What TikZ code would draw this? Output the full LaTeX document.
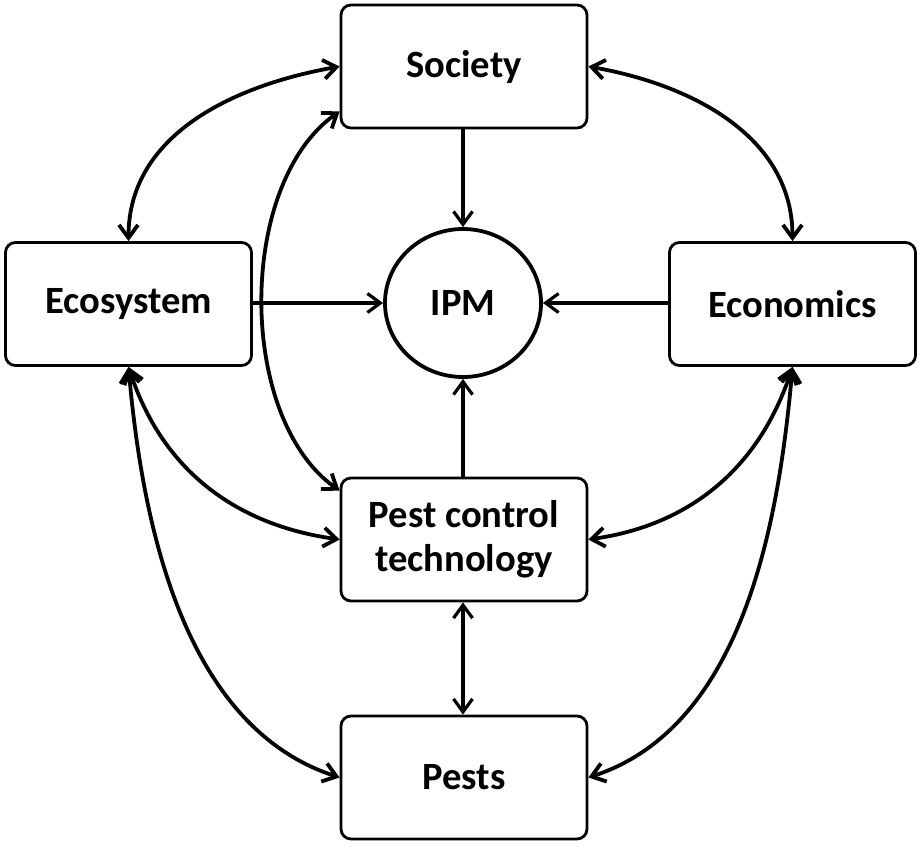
\documentclass[tikz,border=0pt]{standalone}
\usepackage{fontspec}
\setmainfont{Carlito}
\usetikzlibrary{arrows.meta,shapes.geometric}
\begin{document}
\begin{tikzpicture}[x=0.5pt,y=0.5pt,
  lbl/.style={font=\bfseries\fontsize{19.3}{22}\selectfont},
  box/.style={lbl, draw, line width=1.4pt, rounded corners=5pt, minimum width=123pt, minimum height=61.5pt, inner sep=0pt, align=center},
  ipmnode/.style={lbl, draw, ellipse, line width=1.9pt, minimum width=78pt, minimum height=74pt, inner sep=0pt},
  straightarr/.style={line width=1.6pt, -{Straight Barb[length=6.5pt,width=9.5pt]}},
  bothstraight/.style={line width=1.6pt, {Straight Barb[length=6.5pt,width=9.5pt]}-{Straight Barb[length=6.5pt,width=9.5pt]}},
  curvearr/.style={line width=1.9pt, {Straight Barb[length=6.5pt,width=9.5pt]}-{Straight Barb[length=6.5pt,width=9.5pt]}}
]
\useasboundingbox (0,0) rectangle (922,-847);

\node[box] (soc) at (464,-66.5) {Society};
\node[box] (eco) at (128.5,-304) {Ecosystem};
\node[box] (econ) at (792.5,-304) {Economics};
\node[box] (pct) at (464,-539.5) {Pest control\\technology};
\node[box] (pests) at (464,-777.5) {Pests};
\node[ipmnode] (ipm) at (463,-303) {IPM};

% straight arrows into IPM
\draw[straightarr] (soc.south -| ipm.north) -- (ipm.north);
\draw[straightarr] (eco.east |- ipm.west) -- (ipm.west);
\draw[straightarr] (econ.west |- ipm.east) -- (ipm.east);
\draw[straightarr] (pct.north -| ipm.south) -- (ipm.south);
\draw[bothstraight] (pct.south -| ipm.south) -- (pests.north -| ipm.south);

% curved links, left side
\draw[curvearr] (soc.west) to[out=190,in=90] (eco.north);
\draw[curvearr] ([yshift=9pt]soc.south west) to[out=215,in=145,looseness=0.85] ([yshift=-7pt]pct.north west);
\draw[curvearr] (eco.south) to[out=-72,in=172] (pct.west);
\draw[curvearr] (eco.south) to[out=-85,in=162,looseness=0.9] (pests.west);

% curved links, right side
\draw[curvearr] (soc.east) to[out=-10,in=90] (econ.north);
\draw[curvearr] (econ.south) to[out=-108,in=8] (pct.east);
\draw[curvearr] (econ.south) to[out=-95,in=18,looseness=0.9] (pests.east);
\end{tikzpicture}
\end{document}
